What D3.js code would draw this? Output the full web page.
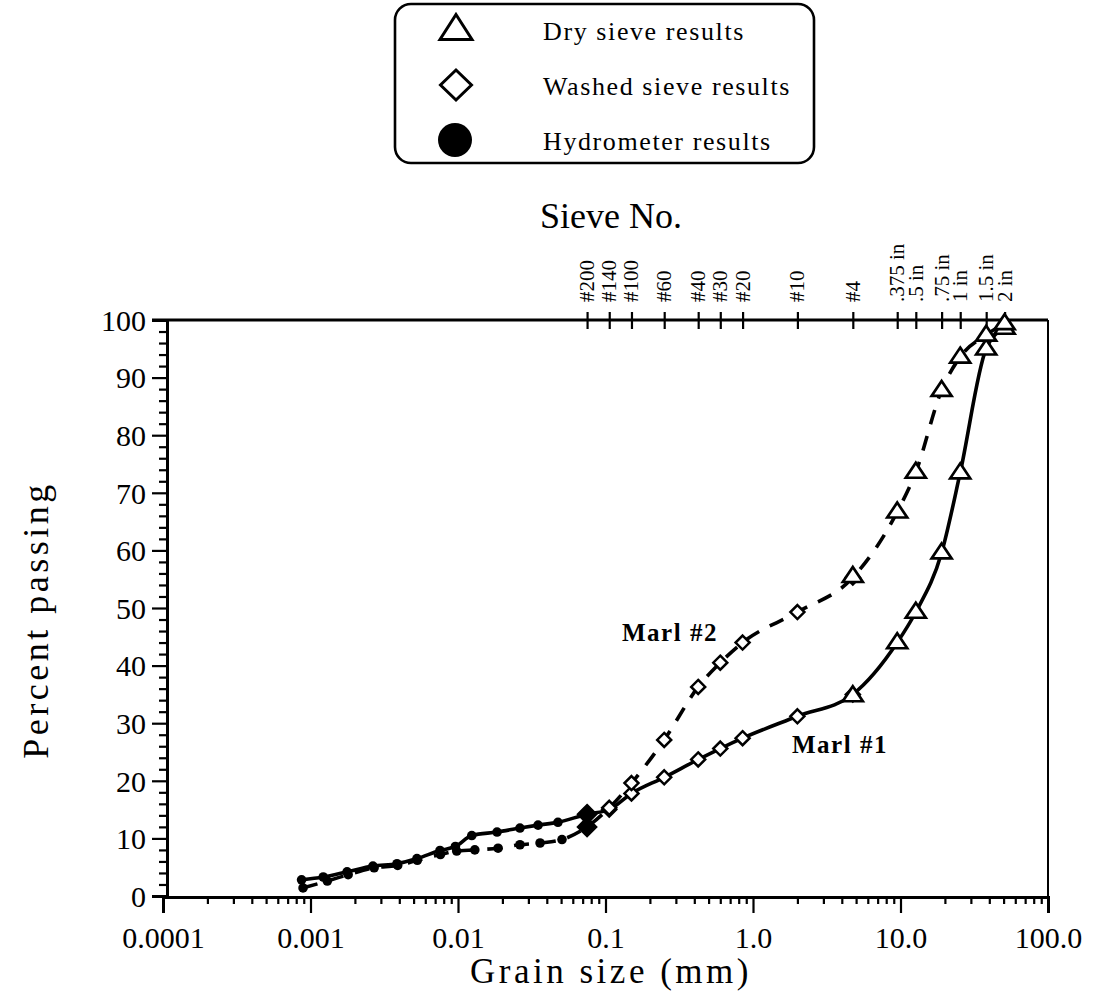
<!DOCTYPE html>
<html>
<head>
<meta charset="utf-8">
<script src="https://cdn.jsdelivr.net/npm/d3@7"></script>
<style>
  html, body { margin: 0; padding: 0; background: #fff; }
  svg { display: block; font-family: "Liberation Serif", "Times New Roman", serif; }
</style>
</head>
<body>
<svg id="chart" width="1106" height="998"></svg>
<script>
// ---------------- data ----------------
const xTickValues = [0.0001, 0.001, 0.01, 0.1, 1, 10, 100];
const xTickLabels = ["0.0001", "0.001", "0.01", "0.1", "1.0", "10.0", "100.0"];
const yTickValues = [0, 10, 20, 30, 40, 50, 60, 70, 80, 90, 100];

const sieveLabels = ["#200", "#140", "#100", "#60", "#40", "#30", "#20", "#10", "#4",
                     ".375 in", ".5 in", ".75 in", "1 in", "1.5 in", "2 in"];
const sieveSizes  = [0.075, 0.106, 0.15, 0.25, 0.425, 0.6, 0.85, 2.0, 4.75,
                     9.5, 12.7, 19.0, 25.4, 38.1, 50.8];

// Marl #1 (solid)
const marl1HydroSize  = [0.00087, 0.00122, 0.00177, 0.00265, 0.00386, 0.00527, 0.00755, 0.0096, 0.0124, 0.0184, 0.0263, 0.0349, 0.0476, 0.075];
const marl1HydroPct   = [2.8, 3.3, 4.2, 5.2, 5.6, 6.5, 7.9, 8.6, 10.5, 11.1, 11.8, 12.3, 12.8, 14.2];
const marl1WashedSize = [0.075, 0.106, 0.15, 0.25, 0.425, 0.6, 0.85, 2.0, 4.75];
const marl1WashedPct  = [14.2, 15.0, 17.8, 20.6, 23.7, 25.6, 27.4, 31.2, 35.0];
const marl1DrySize    = [4.75, 9.5, 12.7, 19.0, 25.4, 38.1, 50.8];
const marl1DryPct     = [34.8, 44.0, 49.3, 59.6, 73.5, 95.0, 98.6];

// Marl #2 (dashed)
const marl2HydroSize  = [0.00089, 0.0013, 0.0018, 0.0027, 0.0039, 0.0053, 0.0076, 0.0098, 0.013, 0.0187, 0.0263, 0.036, 0.0507, 0.075];
const marl2HydroPct   = [1.4, 2.6, 3.7, 4.9, 5.3, 6.2, 7.2, 7.8, 8.0, 8.3, 8.9, 9.2, 9.8, 12.0];
const marl2WashedSize = [0.075, 0.106, 0.15, 0.25, 0.425, 0.6, 0.85, 2.0, 4.75];
const marl2WashedPct  = [12.0, 15.3, 19.6, 27.1, 36.3, 40.5, 44.0, 49.3, 55.3];
const marl2DrySize    = [4.75, 9.5, 12.7, 19.0, 25.4, 38.1, 50.8];
const marl2DryPct     = [55.5, 66.7, 73.6, 87.8, 93.6, 97.4, 99.4];

const legendLabels = ["Dry sieve results", "Washed sieve results", "Hydrometer results"];
const seriesNames  = ["Marl #1", "Marl #2"];

// ---------------- setup ----------------
const svg = d3.select("#chart");
const x = d3.scaleLog().domain([0.0001, 100]).range([163, 1048]);
const y = d3.scaleLinear().domain([0, 100]).range([896, 320]);
const zip = (a, b) => a.map((v, i) => ({ s: v, p: b[i] }));

const series = [
  { name: seriesNames[0], dash: null,
    hydro: zip(marl1HydroSize, marl1HydroPct), washed: zip(marl1WashedSize, marl1WashedPct), dry: zip(marl1DrySize, marl1DryPct) },
  { name: seriesNames[1], dash: "15,12",
    hydro: zip(marl2HydroSize, marl2HydroPct), washed: zip(marl2WashedSize, marl2WashedPct), dry: zip(marl2DrySize, marl2DryPct) }
];

// ---------------- axes ----------------
const minorX = [];
for (let e = -4; e < 2; e++) for (let m = 2; m <= 9; m++) minorX.push(m * Math.pow(10, e));
const minorY = d3.range(0, 101, 2).filter(v => v % 10 !== 0);

const bottomMinor = svg.append("g").attr("transform", "translate(0,897)")
  .call(d3.axisBottom(x).tickValues(minorX).tickSize(7).tickFormat(""));
const bottomMajor = svg.append("g").attr("transform", "translate(0,897)")
  .call(d3.axisBottom(x).tickValues(xTickValues).tickSize(16).tickPadding(7)
        .tickFormat((d, i) => xTickLabels[i]));
const leftMinor = svg.append("g").attr("transform", "translate(167,0)")
  .call(d3.axisLeft(y).tickValues(minorY).tickSize(8).tickFormat(""));
const leftMajor = svg.append("g").attr("transform", "translate(167,0)")
  .call(d3.axisLeft(y).tickValues(yTickValues).tickSize(15).tickPadding(6));

[bottomMinor, bottomMajor, leftMinor, leftMajor].forEach(g => {
  g.select(".domain").attr("stroke", "#000").attr("stroke-width", 3);
  g.selectAll(".tick line").attr("stroke", "#000").attr("stroke-width", 2.2);
  g.selectAll("text").attr("fill", "#000").style("font-family", "Liberation Serif")
   .style("font-size", "30px");
});
bottomMajor.selectAll("text").attr("dy", "0.92em");
leftMajor.selectAll("text").attr("dy", "0.34em");

// frame: top and right
svg.append("line").attr("x1", 152).attr("x2", 1048).attr("y1", y(100)).attr("y2", y(100))
  .attr("stroke", "#000").attr("stroke-width", 3);
svg.append("line").attr("x1", 1048).attr("x2", 1048).attr("y1", y(100)).attr("y2", 897)
  .attr("stroke", "#000").attr("stroke-width", 2);

// top sieve axis
const sieveAxis = svg.append("g").attr("transform", `translate(0,${y(100)})`)
  .call(d3.axisTop(x).tickValues(sieveSizes).tickSize(8).tickFormat(""));
sieveAxis.select(".domain").remove();
sieveAxis.selectAll(".tick line").attr("stroke", "#000").attr("stroke-width", 2.2).attr("y2", -8).attr("y1", 9);

svg.append("g").selectAll("text").data(sieveSizes).join("text")
  .attr("transform", d => `translate(${x(d) + 7},302) rotate(-90)`)
  .attr("text-anchor", "start")
  .style("font-size", "21px")
  .text((d, i) => sieveLabels[i]);

svg.append("text").attr("x", 611).attr("y", 228).attr("text-anchor", "middle")
  .style("font-size", "36px").text("Sieve No.");

// axis titles
svg.append("text").attr("x", 611).attr("y", 983).attr("text-anchor", "middle")
  .style("font-size", "35px").style("letter-spacing", "3.5px").text("Grain size (mm)");
svg.append("text").attr("transform", "translate(48,620) rotate(-90)").attr("text-anchor", "middle")
  .style("font-size", "36px").style("letter-spacing", "3.5px").text("Percent passing");

// ---------------- lines ----------------
const line = d3.line().x(d => x(d.s)).y(d => y(d.p)).curve(d3.curveMonotoneX);
series.forEach(sr => {
  const byS = new Map();
  sr.hydro.forEach(d => byS.set(d.s, d));
  sr.washed.forEach(d => byS.set(d.s, d));
  sr.dry.forEach(d => { if (!byS.has(d.s)) byS.set(d.s, d); });
  const pts = Array.from(byS.values()).sort((a, b) => a.s - b.s);
  svg.append("path").datum(pts).attr("d", line)
    .attr("fill", "none").attr("stroke", "#000").attr("stroke-width", 3.6)
    .attr("stroke-dasharray", sr.dash);
});

// ---------------- markers ----------------
const triPath = (w, h) => `M0,${-h * 0.62}L${w / 2},${h * 0.38}L${-w / 2},${h * 0.38}Z`;
const diaPath = (w, h) => `M0,${-h / 2}L${w / 2},0L0,${h / 2}L${-w / 2},0Z`;

series.forEach(sr => {
  const hydroSizes = new Set(sr.hydro.map(d => d.s));
  svg.append("g").selectAll("circle").data(sr.hydro.filter(d => !sr.washed.some(w => w.s === d.s))).join("circle")
    .attr("cx", d => x(d.s)).attr("cy", d => y(d.p)).attr("r", 4.8).attr("fill", "#000");
  svg.append("g").selectAll("path").data(sr.washed).join("path")
    .attr("transform", d => `translate(${x(d.s)},${y(d.p)})`)
    .attr("d", d => hydroSizes.has(d.s) ? diaPath(18, 18) : diaPath(14, 14))
    .attr("fill", d => hydroSizes.has(d.s) ? "#000" : "#fff")
    .attr("stroke", "#000").attr("stroke-width", 2.5);
  svg.append("g").selectAll("path").data(sr.dry).join("path")
    .attr("transform", d => `translate(${x(d.s)},${y(d.p)})`)
    .attr("d", triPath(20, 15))
    .attr("fill", "#fff").attr("stroke", "#000").attr("stroke-width", 2.7);
});

// series labels
svg.append("text").attr("x", 622).attr("y", 641).style("font-size", "25px").style("font-weight", "bold")
  .style("letter-spacing", "1.5px").text(seriesNames[1]);
svg.append("text").attr("x", 792).attr("y", 753).style("font-size", "25px").style("font-weight", "bold")
  .style("letter-spacing", "1.5px").text(seriesNames[0]);

// ---------------- legend ----------------
const lg = svg.append("g");
lg.append("rect").attr("x", 395).attr("y", 4).attr("width", 419).attr("height", 159).attr("rx", 16)
  .attr("fill", "#fff").attr("stroke", "#000").attr("stroke-width", 2.6);
const legY = [30, 85, 140];
lg.append("path").attr("transform", `translate(456,${legY[0]})`).attr("d", triPath(32, 25))
  .attr("fill", "#fff").attr("stroke", "#000").attr("stroke-width", 3);
lg.append("path").attr("transform", `translate(456,${legY[1]})`).attr("d", diaPath(31, 30))
  .attr("fill", "#fff").attr("stroke", "#000").attr("stroke-width", 3);
lg.append("circle").attr("cx", 455).attr("cy", legY[2]).attr("r", 17).attr("fill", "#000");
lg.selectAll("text").data(legendLabels).join("text")
  .attr("x", 543).attr("y", (d, i) => legY[i] + 10)
  .style("font-size", "26px").style("letter-spacing", "1.6px").text(d => d);
</script>
</body>
</html>
